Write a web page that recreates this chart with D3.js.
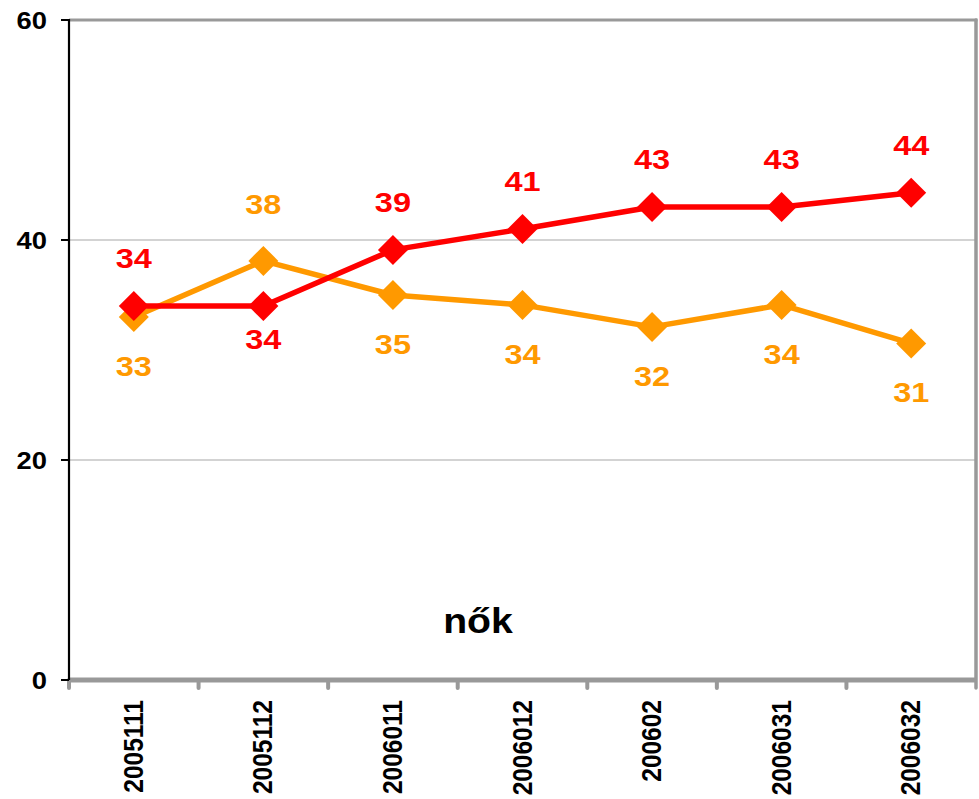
<!DOCTYPE html>
<html>
<head>
<meta charset="utf-8">
<script src="https://cdn.jsdelivr.net/npm/d3@7"></script>
<style>
  html, body { margin: 0; padding: 0; background: #ffffff; }
  svg { display: block; font-family: "Liberation Sans", Arial, sans-serif; font-weight: bold; }
</style>
</head>
<body>
<svg id="chart" width="979" height="799"></svg>
<script>
// ---- data ----
const categories = ["2005111", "2005112", "2006011", "2006012", "200602", "2006031", "2006032"];
const redValues = [34.0, 34.0, 39.1, 41.0, 43.0, 43.0, 44.3];
const orangeValues = [33.0, 38.1, 35.0, 34.1, 32.1, 34.1, 30.6];
const redLabelSide = ["above", "below", "above", "above", "above", "above", "above"];
const orangeLabelSide = ["below", "above", "below", "below", "below", "below", "below"];
const yTicks = [0, 20, 40, 60];
const chartTitle = "nők";

(function () {
// ---- layout ----
const svg = d3.select("#chart");
const pLeft = 69, pRight = 976, pTop = 20, pBottom = 680;
const sx = 1.14; // horizontal text stretch

const x = d3.scaleBand().domain(categories).range([pLeft, pRight]).paddingInner(0).paddingOuter(0);
const y = d3.scaleLinear().domain([0, 60]).range([pBottom, pTop]);
const cx = d => x(d) + x.bandwidth() / 2;

// gridlines
svg.append("g").selectAll("line").data([20, 40]).join("line")
  .attr("x1", pLeft).attr("x2", pRight)
  .attr("y1", d => y(d)).attr("y2", d => y(d))
  .attr("stroke", "#c4c4c4").attr("stroke-width", 1.6);

// top border
svg.append("line").attr("x1", pLeft).attr("x2", pRight + 1.5)
  .attr("y1", y(60)).attr("y2", y(60))
  .attr("stroke", "#999999").attr("stroke-width", 3);

// right border
svg.append("line").attr("x1", pRight).attr("x2", pRight)
  .attr("y1", y(60)).attr("y2", pBottom + 8)
  .attr("stroke", "#999999").attr("stroke-width", 3.5).attr("stroke-linecap", "round");

// bottom axis (gray) with category-boundary ticks
const xBoundaries = categories.map(c => x(c));
svg.append("g").selectAll("line").data(xBoundaries).join("line")
  .attr("x1", d => d).attr("x2", d => d)
  .attr("y1", pBottom).attr("y2", pBottom + 8)
  .attr("stroke", "#999999").attr("stroke-width", 4).attr("stroke-linecap", "round");
svg.append("line").attr("x1", pLeft).attr("x2", pRight)
  .attr("y1", pBottom).attr("y2", pBottom)
  .attr("stroke", "#999999").attr("stroke-width", 5);

// left axis (black)
svg.append("line").attr("x1", pLeft).attr("x2", pLeft)
  .attr("y1", y(60) - 1).attr("y2", pBottom)
  .attr("stroke", "#000000").attr("stroke-width", 2.2);
svg.append("g").selectAll("line").data(yTicks).join("line")
  .attr("x1", pLeft - 8).attr("x2", pLeft)
  .attr("y1", d => y(d)).attr("y2", d => y(d))
  .attr("stroke", "#000000").attr("stroke-width", 2);

// y tick labels
svg.append("g").selectAll("text").data(yTicks).join("text")
  .attr("transform", d => `translate(47, ${y(d) + 8.5}) scale(${sx},1)`)
  .attr("text-anchor", "end")
  .attr("font-size", 24)
  .attr("fill", "#000")
  .text(d => d);

// x tick labels (rotated)
svg.append("g").selectAll("text").data(categories).join("text")
  .attr("transform", d => `translate(${cx(d) + 9}, 700) rotate(-90) scale(1, ${sx})`)
  .attr("text-anchor", "end")
  .attr("font-size", 24.5)
  .attr("fill", "#000")
  .text(d => d);

// series
const series = [
  { values: orangeValues, color: "#ff9900", sides: orangeLabelSide, aboveOff: -47, belowOff: 59 },
  { values: redValues, color: "#ff0000", sides: redLabelSide, aboveOff: -38, belowOff: 43 }
];

const line = d3.line().x((d, i) => cx(categories[i])).y(d => y(d));
const diamond = (px, py, r) => `M${px},${py - r}L${px + r},${py}L${px},${py + r}L${px - r},${py}Z`;

series.forEach(s => {
  svg.append("path").datum(s.values)
    .attr("d", line)
    .attr("fill", "none").attr("stroke", s.color)
    .attr("stroke-width", 5.5).attr("stroke-linejoin", "round");
  svg.append("g").selectAll("path").data(s.values).join("path")
    .attr("d", (d, i) => diamond(cx(categories[i]), y(d), 15))
    .attr("fill", s.color);
});

series.forEach(s => {
  svg.append("g").selectAll("text").data(s.values).join("text")
    .attr("transform", (d, i) => `translate(${cx(categories[i])}, ${y(d) + (s.sides[i] === "above" ? s.aboveOff : s.belowOff)}) scale(${sx},1)`)
    .attr("text-anchor", "middle")
    .attr("font-size", 28.5)
    .attr("fill", s.color)
    .text(d => Math.round(d));
});

// title inside plot
svg.append("text")
  .attr("transform", `translate(478, 633) scale(1.12,1)`)
  .attr("text-anchor", "middle")
  .attr("font-size", 35)
  .attr("fill", "#000")
  .text(chartTitle);
})();
</script>
</body>
</html>
